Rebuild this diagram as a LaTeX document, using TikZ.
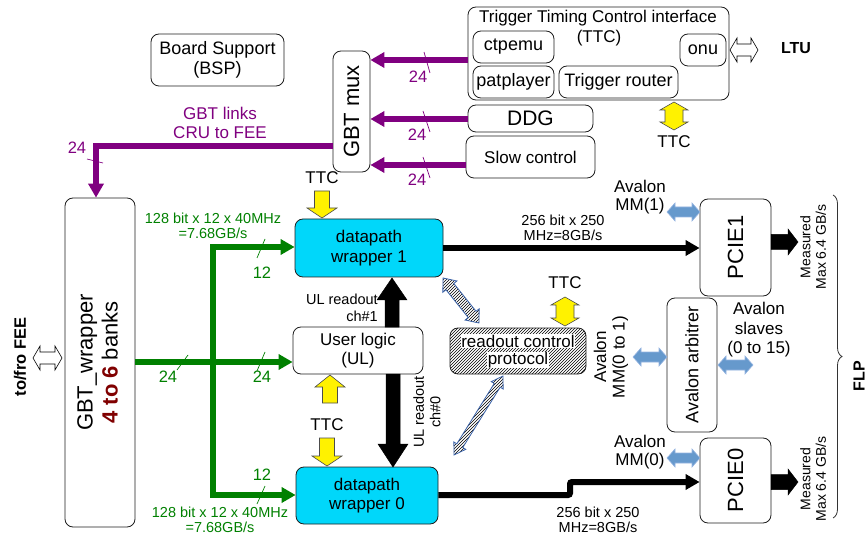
\documentclass[tikz,border=0pt]{standalone}
\usepackage{fontspec}
\setmainfont{Liberation Sans}
\usepackage{graphicx}
\usetikzlibrary{arrows.meta,calc,patterns,decorations.pathreplacing}
\definecolor{purp}{RGB}{128,0,128}
\definecolor{grn}{RGB}{0,128,0}
\definecolor{cyanbox}{RGB}{0,215,250}
\definecolor{darkred}{RGB}{128,0,0}
\definecolor{avblue}{RGB}{102,153,204}
\definecolor{avedge}{RGB}{150,180,225}
\definecolor{hatchedge}{RGB}{60,100,170}
\definecolor{boxedge}{RGB}{30,30,30}
\newcommand\fs[2]{\fontsize{#1}{#2}\selectfont}
% single block arrow: style, from, to, shaft half width, head half width, head length
\newcommand\sarr[6]{%
  \coordinate (aA) at (#2); \coordinate (aB) at (#3);
  \coordinate (aH) at ($(aB)!#6!(aA)$);
  \draw[#1] (aA) -- ($(aA)!#4!90:(aB)$) -- ($(aH)!#4!-90:(aA)$) -- ($(aH)!#5!-90:(aA)$) -- (aB)
    -- ($(aH)!#5!90:(aA)$) -- ($(aH)!#4!90:(aA)$) -- ($(aA)!#4!-90:(aB)$) -- cycle;}
% double block arrow
\newcommand\darr[6]{%
  \coordinate (aA) at (#2); \coordinate (aB) at (#3);
  \coordinate (aH) at ($(aB)!#6!(aA)$); \coordinate (aG) at ($(aA)!#6!(aB)$);
  \draw[#1] (aA) -- ($(aG)!#5!90:(aB)$) -- ($(aG)!#4!90:(aB)$) -- ($(aH)!#4!-90:(aA)$) -- ($(aH)!#5!-90:(aA)$) -- (aB)
    -- ($(aH)!#5!90:(aA)$) -- ($(aH)!#4!90:(aA)$) -- ($(aG)!#4!-90:(aB)$) -- ($(aG)!#5!-90:(aB)$) -- cycle;}

\begin{document}
\begin{tikzpicture}[x=1pt,y=-1pt,
  box/.style={draw=boxedge, line width=0.8pt, rounded corners=8pt, align=center, inner sep=0pt, fill=white},
  lbl/.style={align=center, inner sep=0pt},
  plink/.style={purp, line width=6pt, -{Triangle[length=14pt,width=15pt]}},
  glink/.style={grn, line width=6pt},
  blink/.style={black, line width=6pt, rounded corners=2pt},
  tick/.style={line width=0.7pt},
  yel/.style={fill=yellow, draw=black!70, line width=0.6pt},
  avb/.style={fill=avblue, draw=avedge, line width=0.6pt},
  hol/.style={fill=white, draw=black, line width=0.6pt},
  hat/.style={pattern=north east lines, draw=hatchedge, line width=0.8pt},
  blk/.style={fill=black, draw=black, line width=0.5pt}]
\useasboundingbox (0,0) rectangle (868,540);

% ---------- boxes ----------
\node[box, minimum width=133, minimum height=52, font=\fs{18}{19.5}] (bsp) at (217.5,60) {Board Support\\(BSP)};
\node[box, minimum width=37, minimum height=121, font=\fs{22}{24}] (gbtmux) at (351.5,111.5) {\rotatebox{90}{GBT mux}};
\node[box, minimum width=261, minimum height=93] (ttc) at (598.5,53.5) {};
\node[lbl, font=\fs{17}{19}] (ttctitle) at (598,18) {Trigger Timing Control interface};
\node[lbl, font=\fs{17}{19}] (ttcsub) at (599,38) {(TTC)};
\node[box, minimum width=81, minimum height=32, font=\fs{18}{20}] (ctpemu) at (513.5,47) {ctpemu};
\node[box, minimum width=81, minimum height=32, font=\fs{18}{20}] (patplayer) at (513.5,82) {patplayer};
\node[box, minimum width=119, minimum height=32, font=\fs{18}{20}] (router) at (618.5,82) {Trigger router};
\node[box, minimum width=46, minimum height=32, font=\fs{18}{20}] (onu) at (703,50) {onu};
\node[box, minimum width=125, minimum height=27, font=\fs{21}{23}] (ddg) at (530.5,118.5) {DDG};
\node[box, minimum width=129, minimum height=42, font=\fs{17}{19}] (slow) at (530.5,157) {Slow control};
\node[box, minimum width=70, minimum height=329, font=\fs{22}{25}] (gbtw) at (100,362.5)
  {\rotatebox{90}{\begin{tabular}{@{}c@{}}GBT\_wrapper\\\textcolor{darkred}{\textbf{4 to 6}} banks\end{tabular}}};
\node[box, fill=cyanbox, minimum width=148, minimum height=58, font=\fs{17}{19.5}] (dw1) at (369,248) {datapath\\wrapper 1};
\node[box, minimum width=130, minimum height=47, font=\fs{17}{19.5}] (ul) at (358,350.5) {User logic\\(UL)};
\node[box, fill=cyanbox, minimum width=142, minimum height=57, font=\fs{17}{19.5}] (dw0) at (367,495.5) {datapath\\wrapper 0};
\node[box, fill=none, pattern=north east lines, minimum width=136, minimum height=46] (rcp) at (518,351) {};
\node[lbl, fill=white, inner sep=0.5pt, font=\fs{17}{19}] (rcp1) at (518,341) {readout control};
\node[lbl, fill=white, inner sep=0.5pt, font=\fs{17}{19}] (rcp2) at (518,360) {protocol};
\node[box, minimum width=71, minimum height=97, font=\fs{22}{24}] (pcie1) at (735.5,247.5) {\rotatebox{90}{PCIE1}};
\node[box, minimum width=71, minimum height=85, font=\fs{22}{24}] (pcie0) at (735.5,480.5) {\rotatebox{90}{PCIE0}};
\node[box, minimum width=50, minimum height=134, font=\fs{18}{20}] (arb) at (692,365) {\rotatebox{90}{Avalon arbitrer}};

% ---------- purple GBT links ----------
\draw[plink] (ttc.west |- 0,60) -- (gbtmux.east |- 0,60);
\draw[plink] (ddg.west |- 0,119) -- (gbtmux.east |- 0,119);
\draw[plink] (slow.west |- 0,165) -- (gbtmux.east |- 0,165);
\draw[plink] (gbtmux.west |- 0,146) -- (96,146) -- (96,0 |- gbtw.north);
\draw[tick, purp] (424,52) -- (430,73);
\draw[tick, purp] (423,111) -- (430,132);
\draw[tick, purp] (423,157) -- (430,178);
\draw[tick, purp] (87,159) -- (103,163);
\node[lbl, purp, font=\fs{16.5}{18}] (p24a) at (418,77) {24};
\node[lbl, purp, font=\fs{16.5}{18}] (p24b) at (417,135) {24};
\node[lbl, purp, font=\fs{16.5}{18}] (p24c) at (417,180) {24};
\node[lbl, purp, font=\fs{16.5}{18}] (p24d) at (77,148) {24};
\node[lbl, purp, font=\fs{17}{19}] (gbtlinks) at (220,123) {GBT links\\CRU to FEE};

% ---------- green data links ----------
\draw[glink, {Triangle[length=14pt,width=15pt]}-{Triangle[length=14pt,width=15pt]}]
  (dw1.west |- 0,247) -- (213,247) -- (213,495) -- (dw0.west |- 0,495);
\draw[glink, -{Triangle[length=14pt,width=15pt]}] (gbtw.east |- 0,362) -- (ul.west |- 0,362);
\draw[tick, grn] (257,258) -- (265,239);
\draw[tick, grn] (177,370) -- (188,355);
\draw[tick, grn] (257,371) -- (265,352);
\draw[tick, grn] (257,504) -- (265,486);
\node[lbl, grn, font=\fs{16.5}{18}] (g12a) at (262,273) {12};
\node[lbl, grn, font=\fs{16.5}{18}] (g24a) at (168,377) {24};
\node[lbl, grn, font=\fs{16.5}{18}] (g24b) at (262,377) {24};
\node[lbl, grn, font=\fs{16.5}{18}] (g12b) at (262,475) {12};
\node[lbl, grn, font=\fs{14.5}{15.5}] (g128a) at (213,226) {128 bit x 12 x 40MHz\\=7.68GB/s};
\node[lbl, grn, font=\fs{14.5}{15.5}] (g128b) at (220,520) {128 bit x 12 x 40MHz\\=7.68GB/s};

% ---------- black data paths to PCIe ----------
\draw[blink, -{Triangle[length=14pt,width=15pt]}] (dw1.east |- 0,248) -- (pcie1.west |- 0,248);
\draw[blink, -{Triangle[length=14pt,width=15pt]}] (dw0.east |- 0,495) -- (570,495) -- (570,482) -- (pcie0.west |- 0,482);
\node[lbl, font=\fs{14.5}{15.5}] (b256a) at (563,228) {256 bit x 250\\MHz=8GB/s};
\node[lbl, font=\fs{14.5}{15.5}] (b256b) at (598,520) {256 bit x 250\\MHz=8GB/s};
\sarr{blk}{771,242}{798,242}{7.5pt}{13pt}{10pt}
\sarr{blk}{771,482}{798,482}{7.5pt}{13pt}{10pt}
\node[lbl, rotate=90, font=\fs{14}{15.5}] (meas1) at (813,247) {Measured\\Max 6.4 GB/s};
\node[lbl, rotate=90, font=\fs{14}{15.5}] (meas0) at (813,479) {Measured\\Max 6.4 GB/s};

% ---------- UL readout ----------
\sarr{blk}{392,327}{392,278}{7pt}{15pt}{22pt}
\sarr{blk}{393,374}{393,467}{7pt}{15pt}{23pt}
\node[lbl, align=right, anchor=east, font=\fs{14.5}{16.5}] (ulr1) at (378,308) {UL readout\\ch\#1};
\node[lbl, rotate=90, font=\fs{14.5}{16.5}] (ulr0) at (427,412) {UL readout\\ch\#0};

% ---------- TTC yellow arrows ----------
\node[lbl, font=\fs{17}{19}] (ttcA) at (322,178) {TTC};
\sarr{yel}{322,191}{322,218}{7.5pt}{15pt}{10pt}
\sarr{yel}{330,403}{330,375}{7.5pt}{15pt}{12pt}
\node[lbl, font=\fs{17}{19}] (ttcB) at (327,425) {TTC};
\sarr{yel}{327,438}{327,466}{7.5pt}{15pt}{10pt}
\darr{yel}{674,102}{674,130}{9pt}{14pt}{8pt}
\node[lbl, font=\fs{17}{19}] (ttcC) at (674,142) {TTC};
\node[lbl, font=\fs{17}{19}] (ttcD) at (565,283) {TTC};
\darr{yel}{565,297}{565,326}{9pt}{14pt}{8pt}

% ---------- hatched arrows ----------
\darr{hat}{443,278}{479,323}{5pt}{9pt}{11pt}
\darr{hat}{503,376}{454,455}{3.5pt}{7pt}{11pt}

% ---------- Avalon ----------
\darr{avb}{667,212}{700,212}{5pt}{9pt}{8pt}
\darr{avb}{667,458}{700,458}{5pt}{9pt}{8pt}
\darr{avb}{633,357}{667,357}{5pt}{9pt}{8pt}
\darr{avb}{718,365}{753,365}{5pt}{9pt}{8pt}
\node[lbl, font=\fs{17}{18.5}] (avmm1) at (640,197) {Avalon\\MM(1)};
\node[lbl, font=\fs{17}{18.5}] (avmm0) at (640,452) {Avalon\\MM(0)};
\node[lbl, rotate=90, font=\fs{17}{18.5}] (avmm01) at (611,357) {Avalon\\MM(0 to 1)};
\node[lbl, font=\fs{17}{19.5}] (avsl) at (759,330) {Avalon\\slaves\\(0 to 15)};

% ---------- external ----------
\darr{hol}{730,50}{758,50}{6pt}{12pt}{7pt}
\node[lbl, font=\bfseries\fs{16}{18}] (ltu) at (796,48) {LTU};
\darr{hol}{33,358}{62,358}{6pt}{12pt}{7pt}
\node[lbl, rotate=90, font=\bfseries\fs{16.5}{18}] (tofro) at (20,357) {to/fro FEE};
\draw[decorate, decoration={brace, amplitude=9pt}, line width=0.8pt, black!80] (833,195) -- (833,518);
\node[lbl, rotate=90, font=\bfseries\fs{16}{18}] (flp) at (859,376) {FLP};
\end{tikzpicture}
\end{document}
